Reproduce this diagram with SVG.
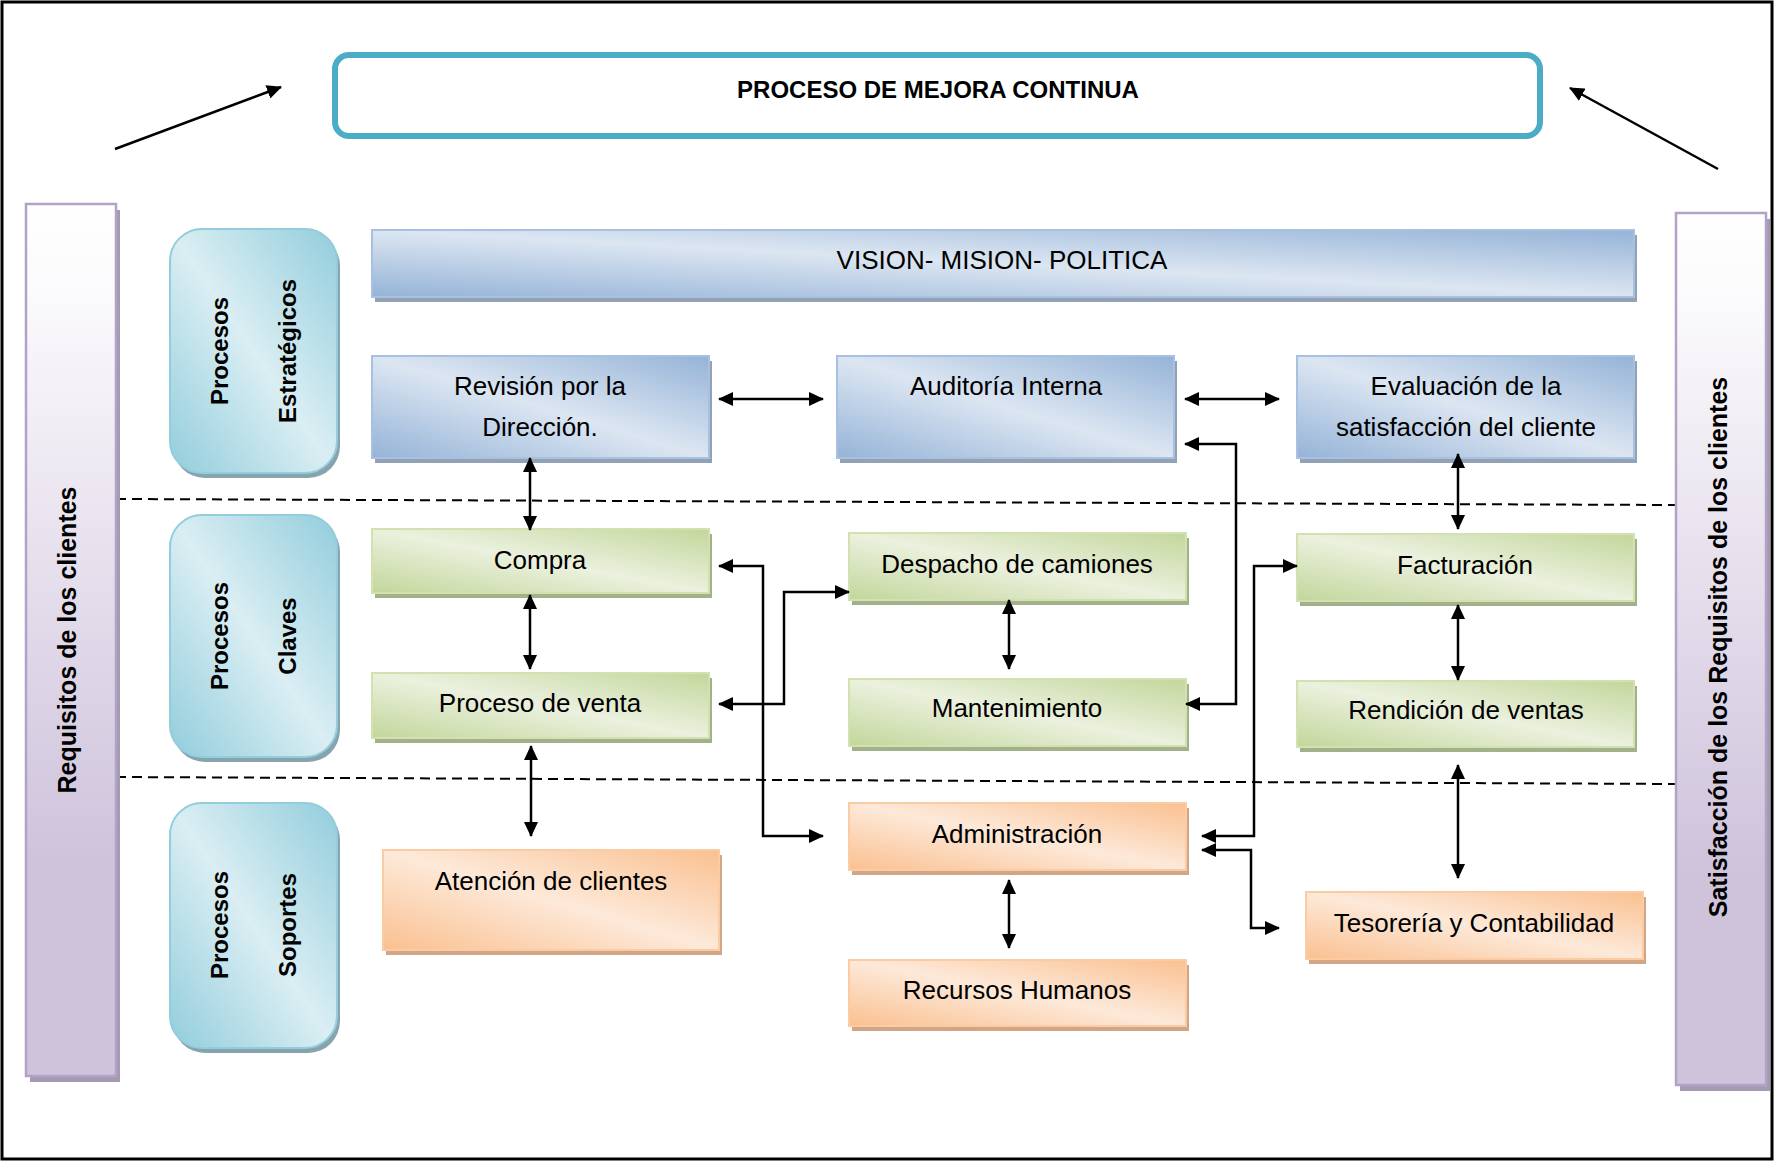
<svg xmlns="http://www.w3.org/2000/svg" width="1775" height="1162" viewBox="0 0 1775 1162">
<style>
.t{font-family:"Liberation Sans",Arial,sans-serif;font-size:26px;fill:#000;text-anchor:middle}
.tb{font-family:"Liberation Sans",Arial,sans-serif;font-weight:bold;fill:#000;text-anchor:middle}
.blue{fill:url(#gBlue);stroke:#A9C1E0;stroke-width:2}
.green{fill:url(#gGreen);stroke:#D1E1B0;stroke-width:2}
.orange{fill:url(#gOrange);stroke:#FBCBA3;stroke-width:2}
.cyan{fill:url(#gCyan);stroke:#93CDDB;stroke-width:2}
.purple{fill:url(#gPurple);stroke:#B3A2C7;stroke-width:2.5}
.sb{fill:#93A1B5}.sg{fill:#A3B18A}.so{fill:#D0A687}.sc{fill:#86A3AE}.sp{fill:#A59BB0}
.c{fill:none;stroke:#000;stroke-width:2.5;marker-start:url(#ah);marker-end:url(#ah)}
.c1{fill:none;stroke:#000;stroke-width:2.5;marker-end:url(#ah)}
.d{fill:none;stroke:#000;stroke-width:2;stroke-dasharray:10 6}
</style>
<defs>
<marker id="ah" viewBox="0 0 15 14" refX="14" refY="7" markerWidth="15" markerHeight="14" markerUnits="userSpaceOnUse" orient="auto-start-reverse"><path d="M0,0 L15,7 L0,14 z" fill="#000"/></marker>
<linearGradient id="gBlue" x1="0" y1="1" x2="1" y2="0"><stop offset="0" stop-color="#95B3D7"/><stop offset="0.5" stop-color="#DCE6F2"/><stop offset="1" stop-color="#95B3D7"/></linearGradient>
<linearGradient id="gGreen" x1="0" y1="1" x2="1" y2="0"><stop offset="0" stop-color="#C3D69B"/><stop offset="0.5" stop-color="#EBF1DE"/><stop offset="1" stop-color="#C3D69B"/></linearGradient>
<linearGradient id="gOrange" x1="0" y1="1" x2="1" y2="0"><stop offset="0" stop-color="#FAC090"/><stop offset="0.5" stop-color="#FDE9D9"/><stop offset="1" stop-color="#FAC090"/></linearGradient>
<linearGradient id="gCyan" x1="0" y1="1" x2="1" y2="0"><stop offset="0" stop-color="#92CDDC"/><stop offset="0.5" stop-color="#DAEEF3"/><stop offset="1" stop-color="#92CDDC"/></linearGradient>
<linearGradient id="gPurple" x1="0" y1="0" x2="0" y2="1"><stop offset="0" stop-color="#FFFFFF"/><stop offset="0.1" stop-color="#FBFAFC"/><stop offset="0.75" stop-color="#CFC3DC"/><stop offset="1" stop-color="#CFC3DC"/></linearGradient>
</defs>
<rect x="2" y="2" width="1770" height="1157" fill="#fff" stroke="#000" stroke-width="3"/>

<g id="dashed-lines">
<line class="d" x1="116" y1="499" x2="1676" y2="505"/>
<line class="d" x1="116" y1="777" x2="1676" y2="784"/>
</g>

<g id="mejora-continua">
<rect x="335" y="55" width="1205" height="81" rx="14" fill="#fff" stroke="#4BACC6" stroke-width="6"/>
<text class="tb" x="938" y="98" font-size="24">PROCESO DE MEJORA CONTINUA</text>
</g>

<g id="requisitos-clientes">
<rect class="sp" x="30" y="210" width="90" height="872"/>
<rect class="purple" x="26" y="204" width="90" height="872"/>
<text class="tb" font-size="25" transform="translate(76,640) rotate(-90)">Requisitos de los clientes</text>
</g>

<g id="satisfaccion-requisitos">
<rect class="sp" x="1680" y="219" width="90" height="872"/>
<rect class="purple" x="1676" y="213" width="90" height="872"/>
<text class="tb" font-size="25" transform="translate(1727,647) rotate(-90)">Satisfacción de los Requisitos de los clientes</text>
</g>

<g id="procesos-estrategicos">
<rect class="sc" x="173" y="234" width="167" height="244" rx="32"/>
<rect class="cyan" x="170" y="229" width="167" height="244" rx="32"/>
<text class="tb" font-size="24" transform="translate(228,351) rotate(-90)">Procesos</text>
<text class="tb" font-size="24" transform="translate(296,351) rotate(-90)">Estratégicos</text>
</g>

<g id="procesos-claves">
<rect class="sc" x="173" y="520" width="167" height="242" rx="32"/>
<rect class="cyan" x="170" y="515" width="167" height="242" rx="32"/>
<text class="tb" font-size="24" transform="translate(228,636) rotate(-90)">Procesos</text>
<text class="tb" font-size="24" transform="translate(296,636) rotate(-90)">Claves</text>
</g>

<g id="procesos-soportes">
<rect class="sc" x="173" y="808" width="167" height="245" rx="32"/>
<rect class="cyan" x="170" y="803" width="167" height="245" rx="32"/>
<text class="tb" font-size="24" transform="translate(228,925) rotate(-90)">Procesos</text>
<text class="tb" font-size="24" transform="translate(296,925) rotate(-90)">Soportes</text>
</g>

<g id="vision">
<rect class="sb" x="375" y="235" width="1262" height="67"/>
<rect class="blue" x="372" y="230" width="1262" height="67"/>
<text class="t" x="1002" y="269" font-size="24">VISION- MISION- POLITICA</text>
</g>

<g id="revision">
<rect class="sb" x="375" y="361" width="337" height="102"/>
<rect class="blue" x="372" y="356" width="337" height="102"/>
<text class="t" x="540" y="395">Revisión por la</text>
<text class="t" x="540" y="436">Dirección.</text>
</g>

<g id="auditoria">
<rect class="sb" x="840" y="361" width="337" height="102"/>
<rect class="blue" x="837" y="356" width="337" height="102"/>
<text class="t" x="1006" y="395">Auditoría Interna</text>
</g>

<g id="evaluacion">
<rect class="sb" x="1300" y="361" width="337" height="102"/>
<rect class="blue" x="1297" y="356" width="337" height="102"/>
<text class="t" x="1466" y="395">Evaluación de la</text>
<text class="t" x="1466" y="436">satisfacción del cliente</text>
</g>

<g id="compra">
<rect class="sg" x="375" y="534" width="337" height="64"/>
<rect class="green" x="372" y="529" width="337" height="64"/>
<text class="t" x="540" y="569">Compra</text>
</g>

<g id="proceso-venta">
<rect class="sg" x="375" y="678" width="337" height="65"/>
<rect class="green" x="372" y="673" width="337" height="65"/>
<text class="t" x="540" y="712">Proceso de venta</text>
</g>

<g id="despacho">
<rect class="sg" x="852" y="538" width="337" height="67"/>
<rect class="green" x="849" y="533" width="337" height="67"/>
<text class="t" x="1017" y="573">Despacho de camiones</text>
</g>

<g id="mantenimiento">
<rect class="sg" x="852" y="684" width="337" height="67"/>
<rect class="green" x="849" y="679" width="337" height="67"/>
<text class="t" x="1017" y="717">Mantenimiento</text>
</g>

<g id="facturacion">
<rect class="sg" x="1300" y="539" width="337" height="67"/>
<rect class="green" x="1297" y="534" width="337" height="67"/>
<text class="t" x="1465" y="574">Facturación</text>
</g>

<g id="rendicion">
<rect class="sg" x="1300" y="686" width="337" height="66"/>
<rect class="green" x="1297" y="681" width="337" height="66"/>
<text class="t" x="1466" y="719">Rendición de ventas</text>
</g>

<g id="atencion">
<rect class="so" x="386" y="855" width="336" height="100"/>
<rect class="orange" x="383" y="850" width="336" height="100"/>
<text class="t" x="551" y="890">Atención de clientes</text>
</g>

<g id="administracion">
<rect class="so" x="852" y="808" width="337" height="67"/>
<rect class="orange" x="849" y="803" width="337" height="67"/>
<text class="t" x="1017" y="843">Administración</text>
</g>

<g id="recursos-humanos">
<rect class="so" x="852" y="965" width="337" height="66"/>
<rect class="orange" x="849" y="960" width="337" height="66"/>
<text class="t" x="1017" y="999">Recursos Humanos</text>
</g>

<g id="tesoreria">
<rect class="so" x="1309" y="897" width="337" height="67"/>
<rect class="orange" x="1306" y="892" width="337" height="67"/>
<text class="t" x="1474" y="932">Tesorería y Contabilidad</text>
</g>

<g id="connectors">
<path class="c1" d="M115,149 L281,87"/>
<path class="c1" d="M1718,169 L1570,88"/>
<path class="c" d="M719,399 H823"/>
<path class="c" d="M1185,399 H1279"/>
<path class="c" d="M1185,444 H1236 V704 H1186"/>
<path class="c" d="M530,458 V530"/>
<path class="c" d="M530,595 V669"/>
<path class="c" d="M531,746 V836"/>
<path class="c" d="M719,566 H763 V836 H823"/>
<path class="c" d="M719,704 H784 V592 H849"/>
<path class="c" d="M1009,600 V669"/>
<path class="c" d="M1009,880 V948"/>
<path class="c" d="M1297,566 H1254 V836 H1202"/>
<path class="c" d="M1202,850 H1251 V928 H1279"/>
<path class="c" d="M1458,454 V529"/>
<path class="c" d="M1458,605 V680"/>
<path class="c" d="M1458,765 V878"/>
</g>
</svg>
